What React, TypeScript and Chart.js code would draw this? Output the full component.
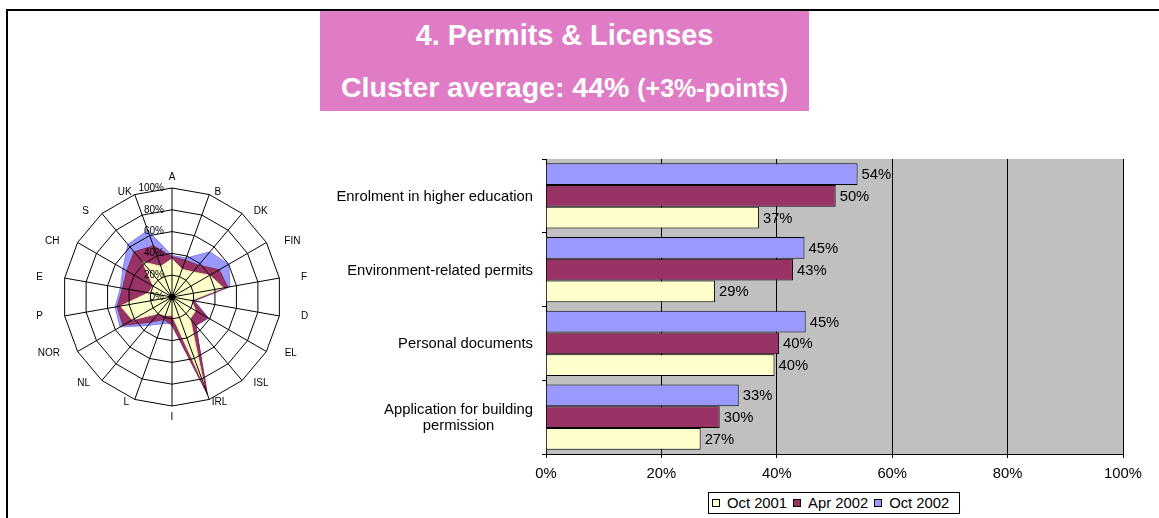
import React, { useEffect, useRef } from "react";
import { Chart, registerables } from "chart.js";
Chart.register(...registerables);

const FONT = '"Liberation Sans", Arial, sans-serif';

// Radar (country) data
const radarCategories = ["A", "B", "DK", "FIN", "F", "D", "EL", "ISL", "IRL", "I", "L", "NL", "NOR", "P", "E", "CH", "S", "UK"];
const radarOct2001 = [35, 27, 30, 40, 48, 18, 25, 26, 86, 17, 18, 20, 42, 48, 22, 20, 42, 30];
const radarApr2002 = [37, 36, 38, 50, 52, 20, 38, 34, 95, 26, 22, 30, 52, 51, 46, 48, 54, 50];
const radarOct2002 = [38, 38, 54, 60, 54, 21, 39, 34, 90, 24, 26, 34, 55, 53, 48, 52, 63, 65];

// Bar (service) data
const barCategories = [
  ["Enrolment in higher education"],
  ["Environment-related permits"],
  ["Personal documents"],
  ["Application for building", "permission"],
];
const barOct2001 = [36.9, 29.3, 39.6, 26.8];
const barApr2002 = [50.2, 42.8, 40.4, 30.1];
const barOct2002 = [54.0, 44.8, 45.0, 33.4];
const xTickStep = 20;

const seriesNames = ["Oct 2001", "Apr 2002", "Oct 2002"];
const seriesColors = ["#FFFFCC", "#993366", "#9999FF"];

const radarDecor = {
  id: "radarDecor",
  afterDraw(chart: any) {
    const s = chart.scales.r;
    const ctx = chart.ctx;
    const R = s.drawingArea;
    const cx = s.xCenter;
    const cy = s.yCenter;
    ctx.save();
    ctx.fillStyle = "#000";
    ctx.beginPath();
    ctx.arc(cx, cy, 3.3, 0, Math.PI * 2);
    ctx.fill();
    ctx.font = "10px " + FONT;
    ctx.textBaseline = "middle";
    ctx.textAlign = "right";
    s.ticks.forEach((t: any) => {
      const d = s.getDistanceFromCenterForValue(t.value);
      ctx.fillText(t.value + "%", cx - 8, cy - d);
    });
    ctx.textAlign = "center";
    const n = chart.data.labels.length;
    chart.data.labels.forEach((lab: string, i: number) => {
      const a = (i * 2 * Math.PI) / n;
      const w = ctx.measureText(lab).width;
      const sx = Math.sin(a);
      const cs = Math.cos(a);
      const x = cx + sx * (R + 22 + w / 2);
      const y = cy - cs * (Math.abs(cs) > 0.99 ? R + 11 : R + 3);
      ctx.fillText(lab, x, y);
    });
    ctx.restore();
  },
};

const barDecor = {
  id: "barDecor",
  beforeDraw(chart: any) {
    const a = chart.chartArea;
    const ctx = chart.ctx;
    ctx.save();
    ctx.fillStyle = "#C0C0C0";
    ctx.fillRect(a.left, a.top, a.right - a.left, a.bottom - a.top);
    ctx.restore();
  },
  afterDraw(chart: any) {
    const ctx = chart.ctx;
    const ys = chart.scales.y;
    ctx.save();
    ctx.font = "14.8px " + FONT;
    ctx.fillStyle = "#000";
    ctx.textBaseline = "middle";
    // data labels
    chart.data.datasets.forEach((ds: any, di: number) => {
      const meta = chart.getDatasetMeta(di);
      meta.data.forEach((el: any, i: number) => {
        ctx.textAlign = "left";
        ctx.fillText(Math.round(ds.data[i]) + "%", el.x + 4, el.y + 1);
      });
    });
    // category labels
    const xRight = chart.chartArea.left - 13;
    chart.data.labels.forEach((lab: string[], i: number) => {
      const yc = ys.getPixelForValue(i) + 1;
      const widths = lab.map((l) => ctx.measureText(l).width);
      const bw = Math.max(...widths);
      ctx.textAlign = "center";
      lab.forEach((l, j) => {
        ctx.fillText(l, xRight - bw / 2, yc + (j - (lab.length - 1) / 2) * 16);
      });
    });
    ctx.restore();
  },
};

function RadarChart() {
  const ref = useRef<HTMLCanvasElement>(null);
  useEffect(() => {
    const chart = new Chart(ref.current!, {
      type: "radar",
      data: {
        labels: radarCategories,
        datasets: [
          { label: seriesNames[0], data: radarOct2001, backgroundColor: seriesColors[0], borderColor: "#E6E6A8", borderWidth: 1, fill: true, pointRadius: 0 },
          { label: seriesNames[1], data: radarApr2002, backgroundColor: seriesColors[1], borderColor: "#862C58", borderWidth: 1, fill: true, pointRadius: 0 },
          { label: seriesNames[2], data: radarOct2002, backgroundColor: seriesColors[2], borderColor: "#8080EE", borderWidth: 1, fill: true, pointRadius: 0 },
        ],
      },
      options: {
        animation: false,
        responsive: false,
        layout: { padding: { left: 51, right: 51, top: 38, bottom: 38 } },
        elements: { line: { tension: 0 } },
        plugins: { legend: { display: false }, tooltip: { enabled: false } },
        scales: {
          r: {
            min: 0,
            max: 100,
            ticks: { stepSize: 20, display: false },
            grid: { color: "#000", lineWidth: 1, z: 1 },
            angleLines: { color: "#000", lineWidth: 1 },
            pointLabels: { display: false },
          },
        },
      },
      plugins: [radarDecor],
    } as any);
    return () => chart.destroy();
  }, []);
  return <canvas ref={ref} width={320} height={294} style={{ position: "absolute", left: 12, top: 150, width: 320, height: 294 }} />;
}

function BarChart() {
  const ref = useRef<HTMLCanvasElement>(null);
  useEffect(() => {
    const chart = new Chart(ref.current!, {
      type: "bar",
      data: {
        labels: barCategories,
        datasets: [
          { label: seriesNames[2], data: barOct2002, backgroundColor: seriesColors[2], borderColor: "#000", borderWidth: 1 },
          { label: seriesNames[1], data: barApr2002, backgroundColor: seriesColors[1], borderColor: "#000", borderWidth: 1 },
          { label: seriesNames[0], data: barOct2001, backgroundColor: seriesColors[0], borderColor: "#000", borderWidth: 1 },
        ],
      },
      options: {
        indexAxis: "y",
        animation: false,
        responsive: false,
        layout: { padding: { top: 19, right: 36, left: 0, bottom: 0 } },
        plugins: { legend: { display: false }, tooltip: { enabled: false } },
        datasets: { bar: { categoryPercentage: 0.886, barPercentage: 1 } },
        scales: {
          x: {
            min: 0,
            max: 100,
            ticks: { stepSize: xTickStep, callback: (v: any) => v + "%", color: "#000", font: { size: 14.8, family: FONT }, padding: 7, maxRotation: 0 },
            grid: { color: "#000", lineWidth: 1, tickLength: 4 },
            border: { color: "#000", width: 1 },
            afterFit: (s: any) => { s.height = 36; },
          },
          y: {
            ticks: { display: false },
            grid: { offset: true, drawOnChartArea: false, color: "#000", tickLength: 4 },
            border: { color: "#000", width: 1 },
            afterFit: (s: any) => { s.width = 226; },
          },
        },
      },
      plugins: [barDecor],
    } as any);
    return () => chart.destroy();
  }, []);
  return <canvas ref={ref} width={839} height={350} style={{ position: "absolute", left: 320, top: 140, width: 839, height: 350 }} />;
}

function Legend() {
  const order = [0, 1, 2];
  return (
    <div style={{ position: "absolute", left: 708, top: 492, width: 252, height: 22, border: "1px solid #000", boxSizing: "border-box", display: "flex", alignItems: "center", paddingLeft: 3, fontFamily: FONT, fontSize: 14.8, color: "#000", background: "#fff", whiteSpace: "nowrap" }}>
      {order.map((i) => (
        <div key={i} style={{ display: "flex", alignItems: "center", marginRight: 6 }}>
          <span style={{ display: "inline-block", width: 8, height: 8, border: "1px solid #000", boxSizing: "border-box", background: seriesColors[i], marginRight: 7 }} />
          <span>{seriesNames[i]}</span>
        </div>
      ))}
    </div>
  );
}

export default function App() {
  return (
    <div style={{ position: "absolute", left: 0, top: 0, width: 1159, height: 518, overflow: "hidden", background: "#fff", fontFamily: FONT }}>
      <div style={{ position: "absolute", left: 6, top: 9, width: 1153, height: 2, background: "#000" }} />
      <div style={{ position: "absolute", left: 6, top: 9, width: 2, height: 509, background: "#000" }} />
      <div style={{ position: "absolute", left: 320, top: 11, width: 489, height: 100, background: "#E07CC6", color: "#fff", fontWeight: "bold", textAlign: "center" }}>
        <div style={{ position: "absolute", left: 0, right: 0, top: 10, fontSize: 28.8, lineHeight: "28.5px", whiteSpace: "nowrap" }}>4. Permits &amp; Licenses</div>
        <div style={{ position: "absolute", left: 0, right: 0, top: 62, fontSize: 28.5, lineHeight: "28.5px", whiteSpace: "nowrap" }}>
          Cluster average: 44% <span style={{ fontSize: 25 }}>(+3%-points)</span>
        </div>
      </div>
      <RadarChart />
      <BarChart />
      <Legend />
    </div>
  );
}
